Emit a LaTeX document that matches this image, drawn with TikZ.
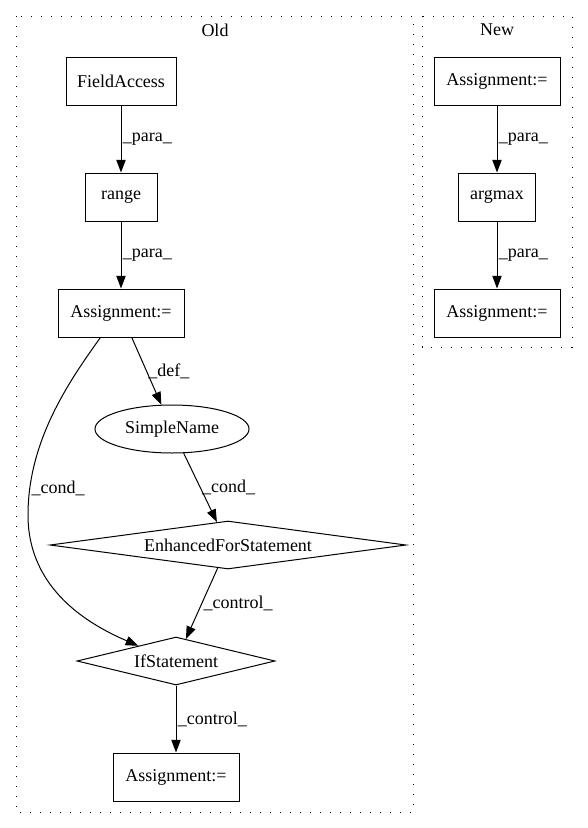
\documentclass[tikz,border=0pt]{standalone}
\usepackage{fontspec}
\setmainfont{Liberation Serif}
\usetikzlibrary{shapes.geometric,arrows.meta}
\begin{document}
\begin{tikzpicture}[x=0.75pt,y=-0.75pt,line width=0.75pt,
  font=\fontsize{13.5}{15}\selectfont,
  box/.style={draw,rectangle,minimum height=36pt,inner sep=0pt},
  oval/.style={draw,ellipse,minimum width=115.5pt,minimum height=36pt,inner sep=0pt},
  test/.style={draw,diamond,minimum height=36pt,inner sep=0pt},
  lbl/.style={right,inner sep=1pt},
  cluster/.style={draw,dash pattern=on 1pt off 6.5pt},
  edge/.style={-{Triangle[length=9.5pt,width=7pt]}}]
  \useasboundingbox (0,0) rectangle (587,828);
  \draw[cluster] (16,16) rectangle (413,812);
  \draw[cluster] (422,16) rectangle (572,347);
  \node (old) at (215,30) {Old};
  \node (new) at (497,30) {New};
  \node[box,minimum width=82.5pt] (fa) at (121,81) {FieldAccess};
  \node[box,minimum width=54pt] (rng) at (121,197) {range};
  \node[box,minimum width=94.5pt] (aold) at (121,313) {Assignment:=};
  \node[oval] (sn) at (172,429) {SimpleName};
  \node[test,shape aspect=7.4,minimum width=267pt] (efs) at (228,545) {EnhancedForStatement};
  \node[test,shape aspect=4.1,minimum width=148.5pt] (ifs) at (176,661) {IfStatement};
  \node[box,minimum width=94.5pt] (alast) at (176,777) {Assignment:=};
  \node[box,minimum width=94.5pt] (anew) at (497,81) {Assignment:=};
  \node[box,minimum width=57.75pt] (amax) at (497,197) {argmax};
  \node[box,minimum width=94.5pt] (aout) at (497,313) {Assignment:=};
  \draw[edge] (fa) -- node[lbl] {\_para\_} (rng);
  \draw[edge] (rng) -- node[lbl] {\_para\_} (aold);
  \draw[edge] (aold) -- node[lbl] {\_def\_} (sn);
  \draw[edge] (sn) -- node[lbl] {\_cond\_} (efs);
  \draw[edge] (efs) -- node[lbl] {\_control\_} (ifs);
  \draw[edge] (ifs) -- node[lbl] {\_control\_} (alast);
  \draw[edge] (aold.230) .. controls (70,380) and (28,440) .. node[lbl,pos=0.88] {\_cond\_} (28,515)
    .. controls (28,590) and (90,625) .. (ifs.158);
  \foreach \a/\b in {anew/amax,amax/aout}
    \draw[edge] (\a) -- node[lbl] {\_para\_} (\b);
\end{tikzpicture}
\end{document}
